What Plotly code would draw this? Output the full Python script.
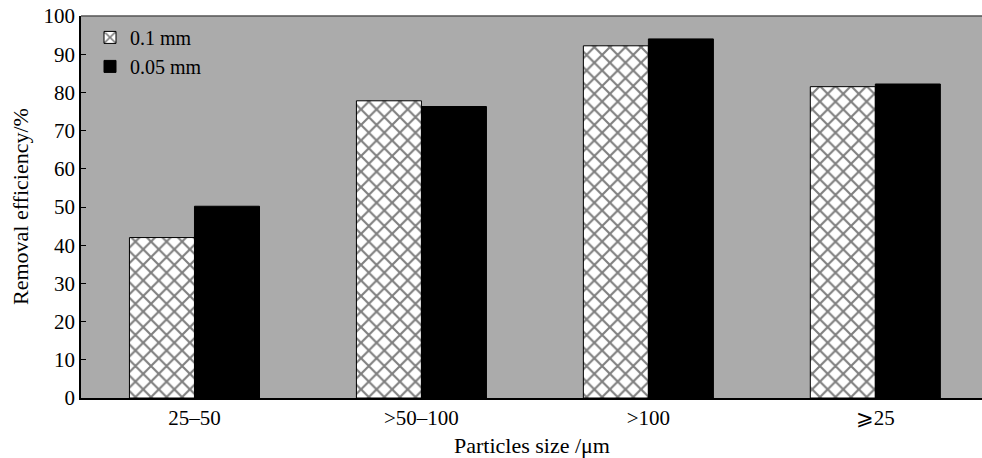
import plotly.graph_objects as go

categories = ["25–50", ">50–100", ">100", "⩾25"]
series_01mm = [42.0, 77.8, 92.2, 81.5]
series_005mm = [50.2, 76.3, 94.0, 82.2]
series_names = ["0.1 mm", "0.05 mm"]
y_ticks = [0, 10, 20, 30, 40, 50, 60, 70, 80, 90, 100]

font_family = "Liberation Serif, Times New Roman, serif"

fig = go.Figure()
fig.add_trace(go.Bar(
    x=categories, y=series_01mm, name=series_names[0],
    marker=dict(color="white", line=dict(color="black", width=1),
                pattern=dict(shape="x", fgcolor="#000000", bgcolor="white",
                             size=11, solidity=0.35)),
))
fig.add_trace(go.Bar(
    x=categories, y=series_005mm, name=series_names[1],
    marker=dict(color="black", line=dict(color="black", width=1)),
))

fig.update_layout(
    width=982, height=458,
    margin=dict(l=81, r=0, t=16, b=60),
    paper_bgcolor="white", plot_bgcolor="#ababab",
    barmode="group", bargap=0.427, bargroupgap=0,
    font=dict(family=font_family, size=21, color="black"),
    showlegend=True,
    legend=dict(x=0.01, y=0.995, xanchor="left", yanchor="top",
                bgcolor="rgba(0,0,0,0)", font=dict(size=20),
                itemwidth=30, tracegroupgap=0),
    xaxis=dict(range=[-0.5, 3.47], showline=True, linecolor="black", linewidth=1.5,
               mirror=False, ticks="", tickfont=dict(size=21), automargin=False),
    yaxis=dict(range=[0, 100], tickvals=y_ticks, showgrid=False, zeroline=False,
               showline=True, linecolor="black", linewidth=1.5,
               ticks="inside", ticklen=5, tickcolor="black",
               tickfont=dict(size=21), automargin=False),
    annotations=[
        dict(text="Particles size /μm", xref="paper", yref="paper", x=0.5, y=0,
             xanchor="center", yanchor="middle", yshift=-47, showarrow=False,
             font=dict(size=22)),
        dict(text="Removal efficiency/%", xref="paper", yref="paper", x=0, y=0.5,
             xanchor="center", yanchor="middle", xshift=-61, textangle=-90,
             showarrow=False, font=dict(size=22)),
    ],
)
fig.add_shape(type="line", xref="paper", yref="paper", x0=0, x1=1, y0=1, y1=1,
              line=dict(color="#555555", width=1.5))

fig.write_html(
    "out.html",
    config={"displayModeBar": False},
    post_script="document.body.style.margin='0';document.body.style.overflow='hidden';"
                "document.documentElement.style.overflow='hidden';",
)
